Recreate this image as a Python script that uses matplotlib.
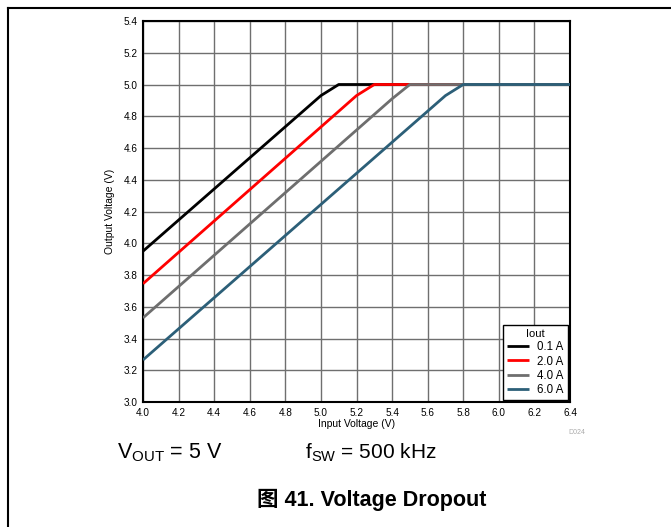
import matplotlib
matplotlib.use("Agg")
import matplotlib.pyplot as plt
from matplotlib.lines import Line2D

plt.rcParams['font.family'] = ['Liberation Sans', 'Noto Sans CJK SC', 'DejaVu Sans']

# Data
vin_01 = [4.0, 5.0, 5.1, 6.4]
vout_01 = [3.95, 4.93, 5.0, 5.0]
vin_20 = [4.0, 5.2, 5.3, 6.4]
vout_20 = [3.745, 4.93, 5.0, 5.0]
vin_40 = [4.0, 5.4, 5.5, 6.4]
vout_40 = [3.53, 4.91, 5.0, 5.0]
vin_60 = [4.0, 5.7, 5.8, 6.4]
vout_60 = [3.265, 4.93, 5.0, 5.0]

labels = ['0.1 A', '2.0 A', '4.0 A', '6.0 A']
colors = ['#000000', '#ff0000', '#6e6e6e', '#2c5f78']
xticks = [4.0 + 0.2 * i for i in range(13)]
yticks = [3.0 + 0.2 * i for i in range(13)]

fig = plt.figure(figsize=(6.71, 5.27), dpi=100)
ax = fig.add_axes([143/671, 1-402/527, (570-143)/671, (402-21)/527])

series = [(vin_01, vout_01), (vin_20, vout_20), (vin_40, vout_40), (vin_60, vout_60)]
for (x, y), lab, c in zip(series, labels, colors):
    ax.plot(x, y, color=c, lw=2.0, label=lab, solid_capstyle='butt', zorder=3)

ax.set_xlim(4.0, 6.4)
ax.set_ylim(3.0, 5.4)
ax.set_xticks(xticks)
ax.set_yticks(yticks)
ax.set_xticklabels([f"{v:.1f}" for v in xticks])
ax.set_yticklabels([f"{v:.1f}" for v in yticks])
ax.tick_params(length=0, labelsize=7.2, pad=4)
ax.grid(True, color='#6f6f6f', lw=1.0)
ax.set_axisbelow(True)
for s in ax.spines.values():
    s.set_linewidth(1.5)
    s.set_color('black')

ax.set_xlabel('Input Voltage (V)', fontsize=7.5, labelpad=1)
ax.set_ylabel('Output Voltage (V)', fontsize=7.5, labelpad=6)

leg = ax.legend(title='Iout', loc='lower right', fontsize=8.3, title_fontsize=8.0,
                fancybox=False, framealpha=1, edgecolor='black',
                borderaxespad=0.15, handlelength=1.9, labelspacing=0.18,
                borderpad=0.4, handletextpad=0.7)
leg.get_frame().set_linewidth(1.0)

fig.text(568/671, 1-433/527, 'D024', fontsize=5, color='#aaaaaa', ha='left', va='center')

fig.text(117/671, 1-453/527, r'V$_{\mathregular{OUT}}$ = 5 V', fontsize=15.5, ha='left', va='center')
fig.text(305/671, 1-453/527, r'f$_{\mathregular{SW}}$ = 500 kHz', fontsize=15, ha='left', va='center')
fig.text(372/671, 1-500/527, '图 41. Voltage Dropout', fontsize=15.5, fontweight='bold',
         ha='center', va='center')

# figure frame (left and top)
fig.add_artist(Line2D([8/671, 8/671], [0, 1-8/527], transform=fig.transFigure, color='black', lw=1.5))
fig.add_artist(Line2D([8/671, 1], [1-8/527, 1-8/527], transform=fig.transFigure, color='black', lw=1.5))

fig.savefig('out.png', dpi=100)
